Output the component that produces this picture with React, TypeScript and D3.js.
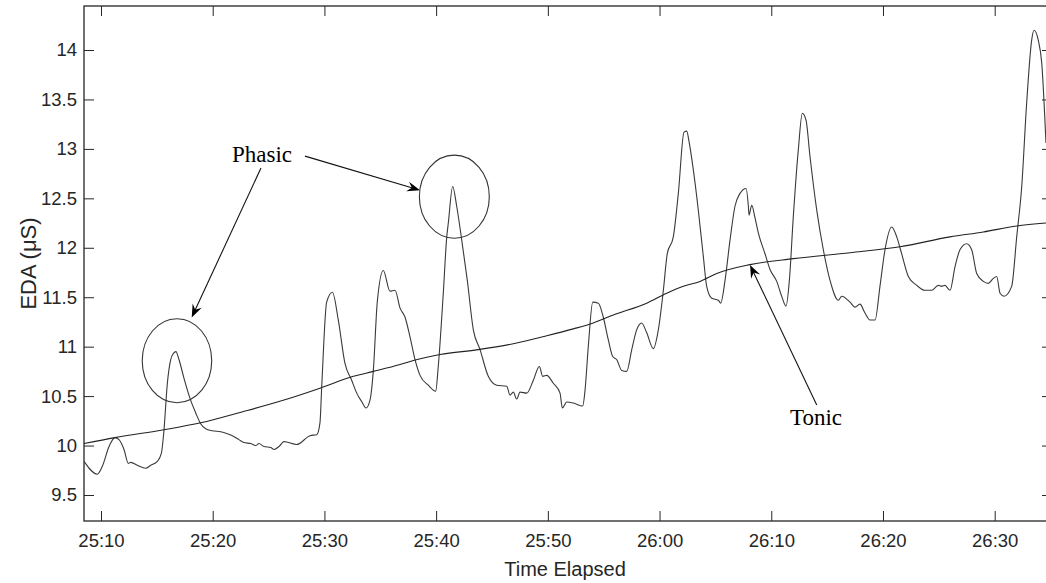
import React, { useEffect, useRef } from "react";
import * as d3 from "d3";

// EDA signal (time in seconds, value in µS)
const edaTime = [
  1508.48, 1509.67, 1510.12, 1510.72, 1511.25, 1511.61, 1512.06, 1512.44, 1512.66, 1513.25,
  1514.0, 1514.45, 1515.04, 1515.4, 1515.64, 1515.94, 1516.24, 1516.47, 1516.71, 1516.98,
  1517.43, 1518.02, 1518.48, 1518.92, 1519.37, 1519.96, 1520.72, 1521.31, 1521.75, 1522.35,
  1522.8, 1523.4, 1523.85, 1524.14, 1524.59, 1525.19, 1525.49, 1525.93, 1526.38, 1527.52,
  1528.71, 1529.31, 1529.6, 1529.76, 1530.2, 1530.72, 1531.24, 1531.84, 1532.44, 1532.89,
  1533.36, 1533.72, 1534.08, 1534.38, 1534.73, 1535.27, 1535.87, 1536.32, 1536.77, 1537.21,
  1537.66, 1538.11, 1538.56, 1539.3, 1539.96, 1540.19, 1540.64, 1540.95, 1541.09, 1541.48,
  1541.84, 1542.29, 1542.79, 1543.33, 1543.93, 1544.67, 1545.42, 1546.32, 1546.61, 1546.91,
  1547.21, 1547.51, 1548.11, 1548.7, 1549.24, 1549.54, 1549.9, 1550.49, 1551.09, 1551.3,
  1551.69, 1552.28, 1553.12, 1553.33, 1553.62, 1554.02, 1554.52, 1554.96, 1555.41, 1555.81,
  1556.16, 1556.61, 1557.06, 1557.51, 1557.95, 1558.4, 1558.85, 1559.44, 1559.89, 1560.34,
  1560.69, 1561.23, 1561.68, 1562.19, 1562.43, 1562.66, 1563.02, 1563.47, 1563.92, 1564.22,
  1564.67, 1565.26, 1565.47, 1565.86, 1566.31, 1566.75, 1567.2, 1567.74, 1567.95, 1568.01,
  1568.25, 1568.55, 1568.84, 1569.44, 1569.89, 1570.49, 1570.93, 1571.32, 1571.62, 1571.97,
  1572.42, 1572.78, 1573.11, 1573.47, 1574.07, 1574.66, 1575.26, 1576.0, 1576.31, 1577.05,
  1577.5, 1577.94, 1578.39, 1578.84, 1579.29, 1579.73, 1580.18, 1580.78, 1581.23, 1581.67,
  1582.27, 1583.02, 1583.76, 1584.36, 1584.95, 1585.25, 1585.55, 1586.0, 1586.45, 1586.89,
  1587.49, 1587.94, 1588.39, 1588.98, 1589.43, 1589.88, 1590.18, 1590.48, 1590.84, 1591.52,
  1591.97, 1592.42, 1592.86, 1593.31, 1593.52, 1593.9, 1594.21, 1594.59,
];
const edaValue = [
  9.84, 9.71, 9.79, 9.99, 10.08, 10.06, 9.96, 9.82, 9.83, 9.8,
  9.77, 9.8, 9.84, 9.92, 10.16, 10.63, 10.87, 10.93, 10.95, 10.87,
  10.68, 10.46, 10.33, 10.22, 10.17, 10.15, 10.14, 10.12, 10.1, 10.06,
  10.03, 10.02, 10.0, 10.02, 9.99, 9.98, 9.96, 9.99, 10.04, 10.01,
  10.1, 10.11, 10.23, 10.6, 11.45, 11.55, 11.27, 10.83, 10.66, 10.53,
  10.44, 10.38, 10.46, 10.76, 11.45, 11.77, 11.56, 11.57, 11.39, 11.3,
  11.1, 10.87, 10.71, 10.61, 10.55, 10.8, 11.54, 12.11, 12.25, 12.62,
  12.42, 12.08, 11.67, 11.17, 10.97, 10.7, 10.61, 10.6, 10.51, 10.54,
  10.47, 10.54, 10.53, 10.66, 10.8, 10.7, 10.71, 10.63, 10.53, 10.38,
  10.44, 10.43, 10.4, 10.56, 11.0, 11.45, 11.44, 11.3, 11.07, 10.9,
  10.87, 10.76, 10.75, 10.97, 11.17, 11.24, 11.14, 10.98, 11.17, 11.57,
  11.94, 12.11, 12.55, 13.17, 13.18, 13.06, 12.79, 12.38, 11.91, 11.61,
  11.49, 11.47, 11.44, 11.67, 12.08, 12.42, 12.55, 12.6, 12.42, 12.33,
  12.43, 12.3, 12.15, 11.94, 11.78, 11.66, 11.51, 11.41, 11.67, 12.31,
  12.99, 13.36, 13.29, 12.92, 12.38, 11.98, 11.67, 11.47, 11.51, 11.45,
  11.4, 11.43, 11.34, 11.27, 11.27, 11.61, 11.98, 12.21, 12.11, 11.94,
  11.71, 11.62, 11.57, 11.57, 11.62, 11.61, 11.62, 11.57, 11.81, 11.98,
  12.04, 11.98, 11.74, 11.66, 11.64, 11.69, 11.71, 11.54, 11.51, 11.61,
  12.11, 12.62, 13.46, 14.1, 14.2, 14.1, 13.87, 13.06,
];

// Tonic component
const tonicTime = [
  1508.48, 1511.25, 1515.64, 1518.92, 1522.62, 1526.38, 1529.6, 1532.59, 1534.38, 1536.77,
  1537.96, 1540.35, 1543.75, 1546.91, 1549.9, 1552.28, 1554.07, 1555.86, 1558.85, 1560.64,
  1562.13, 1563.62, 1565.12, 1568.1, 1571.97, 1577.05, 1581.52, 1586.0, 1588.98, 1591.97,
  1594.59,
];
const tonicValue = [
  10.02, 10.08, 10.16, 10.23, 10.34, 10.46, 10.58, 10.7, 10.75, 10.82,
  10.86, 10.92, 10.97, 11.03, 11.11, 11.18, 11.24, 11.32, 11.44, 11.54,
  11.61, 11.66, 11.74, 11.83, 11.89, 11.95, 12.01, 12.11, 12.16, 12.22,
  12.25,
];

const xTicks = [1510, 1520, 1530, 1540, 1550, 1560, 1570, 1580, 1590];
const yTicks = [9.5, 10, 10.5, 11, 11.5, 12, 12.5, 13, 13.5, 14];

// annotations in data units
const circles = [
  { t: 1516.8, v: 10.858, rt: 3.11, rv: 0.425 },
  { t: 1541.63, v: 12.517, rt: 3.13, rv: 0.42 },
];
const arrows = [
  { t0: 1524.32, v0: 12.806, t1: 1518.12, v1: 11.296 },
  { t0: 1528.26, v0: 12.927, t1: 1538.56, v1: 12.583 },
  { t0: 1574.07, v0: 10.41, t1: 1568.1, v1: 11.826 },
];
const labels = [
  { text: "Phasic", t: 1521.73, v: 12.87 },
  { text: "Tonic", t: 1571.68, v: 10.208 },
];

const W = 1046;
const H = 583;
const margin = { top: 6, left: 84, right: 1052, bottom: 521 };
const axisColor = "#262626";
const sans = "'Liberation Sans', Arial, Helvetica, sans-serif";
const serif = "'Liberation Serif', 'Times New Roman', serif";

const fmtTime = (t: number) => `${Math.floor(t / 60)}:${String(t % 60).padStart(2, "0")}`;

const App = () => {
  const ref = useRef<SVGSVGElement>(null);

  useEffect(() => {
    const svg = d3.select(ref.current);
    svg.selectAll("*").remove();

    const x = d3.scaleLinear().domain([1508.478, 1595.13]).range([margin.left, margin.right]);
    const y = d3.scaleLinear().domain([9.237, 14.445]).range([margin.bottom, margin.top]);

    svg.append("defs").append("clipPath").attr("id", "plot-clip")
      .append("rect")
      .attr("x", margin.left).attr("y", margin.top)
      .attr("width", margin.right - margin.left).attr("height", margin.bottom - margin.top);

    // axes
    const styleAxis = (g: any) => {
      g.select(".domain").remove();
      g.selectAll("line").attr("stroke", axisColor).attr("stroke-width", 1);
      g.selectAll("text").attr("fill", axisColor).style("font-family", sans).style("font-size", "18.5px");
    };

    svg.append("g")
      .attr("transform", `translate(0, ${margin.bottom})`)
      .call(d3.axisBottom(x).tickValues(xTicks).tickSizeInner(-10).tickSizeOuter(0).tickPadding(13).tickFormat((d: any) => fmtTime(d)))
      .call(styleAxis);
    svg.append("g")
      .attr("transform", `translate(0, ${margin.top})`)
      .call(d3.axisTop(x).tickValues(xTicks).tickSizeInner(-10).tickSizeOuter(0).tickFormat(() => ""))
      .call(styleAxis);
    svg.append("g")
      .attr("transform", `translate(${margin.left}, 0)`)
      .call(d3.axisLeft(y).tickValues(yTicks).tickSizeInner(-10).tickSizeOuter(0).tickPadding(7).tickFormat((d: any) => String(d)))
      .call(styleAxis);
    svg.append("g")
      .attr("transform", `translate(${margin.right}, 0)`)
      .call(d3.axisRight(y).tickValues(yTicks).tickSizeInner(-10).tickSizeOuter(0).tickFormat(() => ""))
      .call(styleAxis);

    // box
    svg.append("rect")
      .attr("x", margin.left).attr("y", margin.top)
      .attr("width", margin.right - margin.left).attr("height", margin.bottom - margin.top)
      .attr("fill", "none").attr("stroke", axisColor).attr("stroke-width", 1.3);

    const plot = svg.append("g").attr("clip-path", "url(#plot-clip)");

    const eda = edaTime.map((t, i) => [t, edaValue[i]] as [number, number]);
    const tonic = tonicTime.map((t, i) => [t, tonicValue[i]] as [number, number]);

    plot.append("path")
      .attr("d", d3.line().x(d => x(d[0])).y(d => y(d[1])).curve(d3.curveMonotoneX)(eda))
      .attr("fill", "none").attr("stroke", "#3a3a3a").attr("stroke-width", 1.1);

    plot.append("path")
      .attr("d", d3.line().x(d => x(d[0])).y(d => y(d[1])).curve(d3.curveMonotoneX)(tonic))
      .attr("fill", "none").attr("stroke", "#222").attr("stroke-width", 1.1);

    // annotation ellipses
    svg.selectAll(".circ")
      .data(circles)
      .enter()
      .append("ellipse")
      .attr("cx", d => x(d.t)).attr("cy", d => y(d.v))
      .attr("rx", d => x(d.t + d.rt) - x(d.t)).attr("ry", d => y(d.v - d.rv) - y(d.v))
      .attr("fill", "none").attr("stroke", "#333").attr("stroke-width", 1.1);

    // arrows
    arrows.forEach(a => {
      const x0 = x(a.t0), y0 = y(a.v0), x1 = x(a.t1), y1 = y(a.v1);
      const len = Math.hypot(x1 - x0, y1 - y0);
      const ux = (x1 - x0) / len, uy = (y1 - y0) / len;
      const nx = -uy, ny = ux;
      const L = 13, hw = 5;
      svg.append("line")
        .attr("x1", x0).attr("y1", y0).attr("x2", x1 - ux * 6).attr("y2", y1 - uy * 6)
        .attr("stroke", "#111").attr("stroke-width", 1.1);
      const pts = [
        [x1, y1],
        [x1 - ux * L + nx * hw, y1 - uy * L + ny * hw],
        [x1 - ux * L * 0.65, y1 - uy * L * 0.65],
        [x1 - ux * L - nx * hw, y1 - uy * L - ny * hw],
      ];
      svg.append("polygon")
        .attr("points", pts.map(p => p.join(",")).join(" "))
        .attr("fill", "#000");
    });

    svg.selectAll(".lbl")
      .data(labels)
      .enter()
      .append("text")
      .attr("x", d => x(d.t)).attr("y", d => y(d.v))
      .text(d => d.text)
      .attr("fill", "#000")
      .style("font-family", serif)
      .style("font-size", "23px");

    // axis labels
    svg.append("text")
      .attr("x", (margin.left + W) / 2).attr("y", 576)
      .attr("text-anchor", "middle")
      .attr("fill", axisColor)
      .style("font-family", sans).style("font-size", "20px")
      .text("Time Elapsed");

    svg.append("text")
      .attr("transform", `translate(36, ${(margin.top + margin.bottom) / 2}) rotate(-90)`)
      .attr("text-anchor", "middle")
      .attr("fill", axisColor)
      .style("font-family", sans).style("font-size", "22px")
      .text("EDA (μS)");
  }, []);

  return (
    <svg
      ref={ref}
      width={W}
      height={H}
      style={{ position: "absolute", left: 0, top: 0, background: "#fff" }}
    />
  );
};

export default App;
